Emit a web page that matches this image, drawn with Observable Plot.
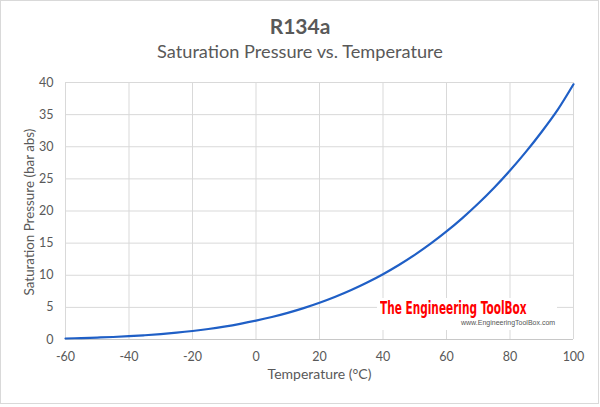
<!DOCTYPE html>
<html>
<head>
<meta charset="utf-8">
<script src="https://cdn.jsdelivr.net/npm/d3@7"></script>
<script src="https://cdn.jsdelivr.net/npm/@observablehq/plot@0.6"></script>
<style>
  html, body { margin: 0; padding: 0; background: #fff; }
  #chart {
    position: relative; width: 600px; height: 407px; overflow: hidden;
    font-family: Lato, "Open Sans", sans-serif; color: #595959;
  }
  #frame {
    position: absolute; left: 0; top: 0; width: 597px; height: 402px;
    border: 1px solid #d9d9d9; pointer-events: none;
  }
  #title {
    position: absolute; left: 0; width: 600px; top: 15px; text-align: center;
    font-size: 21px; font-weight: bold; color: #595959; line-height: 1;
  }
  #subtitle {
    position: absolute; left: 0; width: 600px; top: 41.5px; text-align: center;
    font-size: 18.2px; color: #595959; line-height: 1;
  }
  #plot { position: absolute; left: 0; top: 0; }
  #brand {
    position: absolute; left: 377px; top: 298px; width: 180px; height: 32px;
    background: #fff;
  }
  #brand .name {
    position: absolute; left: 3px; top: 1px; font-family: "DejaVu Sans", sans-serif;
    font-weight: bold; font-size: 17px; color: #ff0000; white-space: nowrap;
    transform: scaleX(0.62); transform-origin: 0 0; line-height: 1.1;
  }
  #brand .url {
    position: absolute; left: 84px; top: 21px; font-family: "Liberation Sans", sans-serif;
    font-size: 7px; color: #555; white-space: nowrap;
  }
</style>
</head>
<body>
<div id="chart">
  <div id="plot"></div>
  <div id="title">R134a</div>
  <div id="subtitle">Saturation Pressure vs. Temperature</div>
  <div id="brand"><span class="name">The Engineering ToolBox</span><span class="url">www.EngineeringToolBox.com</span></div>
  <div id="frame"></div>
</div>
<script>
// R134a saturation pressure (bar abs) against temperature (°C)
const temperature = [-60, -55, -50, -45, -40, -35, -30, -25, -20, -15, -10, -5, 0, 5, 10, 15, 20, 25, 30, 35, 40, 45, 50, 55, 60, 65, 70, 75, 80, 85, 90, 95, 100];
const pressure = [0.159, 0.219, 0.299, 0.391, 0.512, 0.661, 0.844, 1.064, 1.327, 1.639, 2.006, 2.433, 2.928, 3.497, 4.146, 4.884, 5.717, 6.653, 7.702, 8.870, 10.166, 11.599, 13.179, 14.915, 16.817, 18.896, 21.162, 23.626, 26.300, 29.199, 32.337, 35.736, 39.719];
const xTicks = [-60, -40, -20, 0, 20, 40, 60, 80, 100];
const yTicks = [0, 5, 10, 15, 20, 25, 30, 35, 40];

const rows = temperature.map((t, i) => ({t, p: pressure[i]}));
const textColor = "#595959";

const chart = Plot.plot({
  width: 600,
  height: 407,
  marginTop: 82,
  marginBottom: 68,
  marginLeft: 65,
  marginRight: 27,
  style: {fontFamily: "Lato, 'Open Sans', sans-serif", fontSize: "12.5px", color: textColor, background: "transparent"},
  x: {domain: [-60, 100], ticks: xTicks, label: null},
  y: {domain: [0, 40], ticks: yTicks, label: null},
  marks: [
    Plot.gridX(xTicks, {stroke: "#d9d9d9", strokeOpacity: 1, strokeWidth: 1}),
    Plot.gridY(yTicks.filter(d => d > 0), {stroke: "#d9d9d9", strokeOpacity: 1, strokeWidth: 1}),
    Plot.ruleY([0], {stroke: "#c8c8c8", strokeWidth: 1}),
    Plot.axisX(xTicks, {tickSize: 0, tickPadding: 13, tickFormat: d => d.toString().replace("\u2212", "-"), fill: textColor}),
    Plot.axisY(yTicks, {tickSize: 0, tickPadding: 12, fill: textColor}),
    Plot.text(["Temperature (°C)"], {frameAnchor: "bottom", dx: 0, dy: 39, fill: textColor, fontSize: 14}),
    Plot.text(["Saturation Pressure (bar abs)"], {frameAnchor: "left", textAnchor: "middle", rotate: -90, dx: -36, dy: 1, fill: textColor, fontSize: 13.4}),
    Plot.line(rows, {x: "t", y: "p", curve: "catmull-rom", stroke: "#1f5fc6", strokeWidth: 2.2})
  ]
});
document.getElementById("plot").appendChild(chart);
</script>
</body>
</html>
